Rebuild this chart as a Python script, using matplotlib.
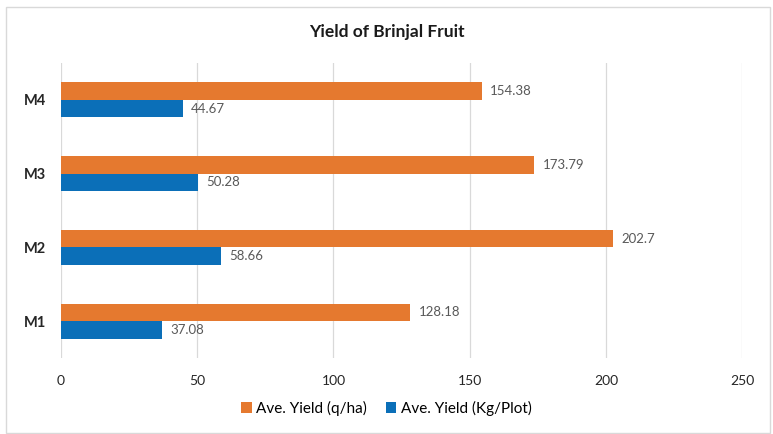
import numpy as np
import matplotlib.pyplot as plt
from matplotlib.patches import Rectangle

# data
categories = ["M1", "M2", "M3", "M4"]
yield_q_ha = [128.18, 202.7, 173.79, 154.38]
yield_kg_plot = [37.08, 58.66, 50.28, 44.67]
x_ticks = [0, 50, 100, 150, 200, 250]

plt.rcParams["font.family"] = ["Lato", "DejaVu Sans"]

orange = "#E5792F"
blue = "#0B6FB8"

fig = plt.figure(figsize=(7.73, 4.34), dpi=100)
ax = fig.add_axes([0.079, 0.175, 0.881, 0.680])

y = np.arange(len(categories))
h = 0.236
ax.barh(y + h / 2, yield_q_ha, height=h, color=orange, label="Ave. Yield (q/ha)", zorder=3)
ax.barh(y - h / 2, yield_kg_plot, height=h, color=blue, label="Ave. Yield (Kg/Plot)", zorder=3)

for yi, v in zip(y, yield_q_ha):
    ax.annotate(f"{v:g}", (v, yi + h / 2), xytext=(6, 0), textcoords="offset points",
                va="center", ha="left", fontsize=9.5, color="#595959")
for yi, v in zip(y, yield_kg_plot):
    ax.annotate(f"{v:g}", (v, yi - h / 2), xytext=(6, 0), textcoords="offset points",
                va="center", ha="left", fontsize=9.5, color="#595959")

ax.set_xlim(0, 250)
ax.set_ylim(-0.5, 3.5)
ax.set_xticks(x_ticks)
ax.set_xticklabels([str(t) for t in x_ticks], fontsize=10, color="#262626")
ax.set_yticks(y)
ax.set_yticklabels(categories, fontsize=10.5, fontweight="bold", color="#262626")
ax.tick_params(axis="both", length=0)
ax.tick_params(axis="x", pad=12)
ax.tick_params(axis="y", pad=11)
ax.grid(axis="x", color="#D9D9D9", linewidth=0.9, zorder=0)
for s in ax.spines.values():
    s.set_visible(False)

fig.text(0.5, 1 - 32 / 434, "Yield of Brinjal Fruit", ha="center", va="center",
         fontsize=12.5, fontweight="bold", color="#1a1a1a")

fig.legend(loc="center", bbox_to_anchor=(0.5, 1 - 408 / 434), ncol=2, frameon=False, fontsize=11,
           handlelength=0.7, handleheight=0.7, handletextpad=0.3, columnspacing=1.2)

fig.patches.append(Rectangle((6 / 773, 0.002), 764 / 773, 1 - 7 / 434 - 0.002, transform=fig.transFigure,
                             fill=False, edgecolor="#D9D9D9", linewidth=1))

fig.savefig("out.png", dpi=100)
